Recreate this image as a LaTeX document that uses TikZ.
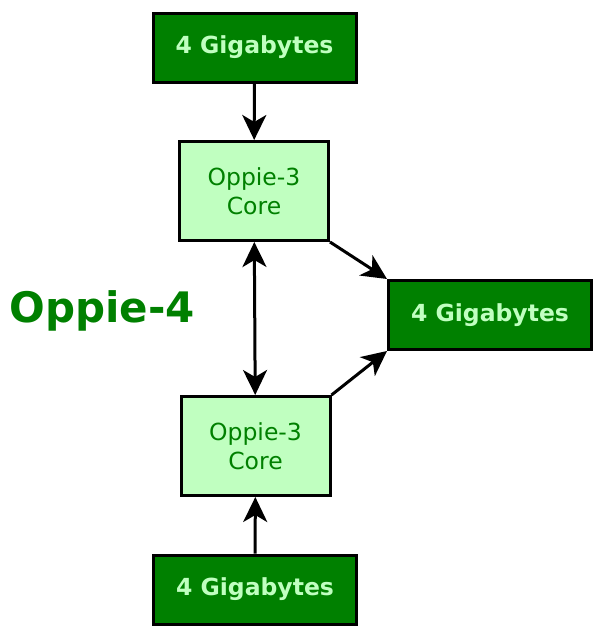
\documentclass[tikz,border=0pt]{standalone}
\usepackage{fontspec}
\setmainfont{DejaVu Sans}
\usetikzlibrary{arrows.meta}
\definecolor{darkgreen}{RGB}{0,128,0}
\definecolor{palegreen}{RGB}{192,255,192}
\begin{document}
\begin{tikzpicture}[x=1pt,y=-1pt,>={Stealth[length=25pt,width=24pt,inset=7pt]},
  mem/.style={draw,line width=3pt,fill=darkgreen,text=palegreen,
    minimum width=203pt,minimum height=69pt,inner sep=0pt,
    font=\fontsize{23.5}{28}\selectfont\bfseries},
  core/.style={draw,line width=3pt,fill=palegreen,text=darkgreen,
    minimum width=149pt,minimum height=99pt,inner sep=0pt,align=center,
    font=\fontsize{23.5}{29}\selectfont},
  link/.style={line width=3pt,->}]
  \useasboundingbox (0,0) rectangle (602,640);

  \node[mem] (memtop) at (254.5,47.5) {4 Gigabytes};
  \node[core] (coreA) at (254,191) {Oppie-3\\Core};
  \node[mem] (memright) at (490,315) {4 Gigabytes};
  \node[core] (coreB) at (255.5,446) {Oppie-3\\Core};
  \node[mem] (membot) at (255,589.5) {4 Gigabytes};
  \node[text=darkgreen,font=\fontsize{42}{48}\selectfont\bfseries] (title) at (102,311) {Oppie-4};

  \draw[link] (memtop) -- (coreA);
  \draw[link] (membot) -- (coreB);
  \draw[link,<->] (coreA) -- (coreB);
  \draw[link] (coreA.south east) -- (memright.north west);
  \draw[link] (coreB.north east) -- (memright.south west);
\end{tikzpicture}
\end{document}
